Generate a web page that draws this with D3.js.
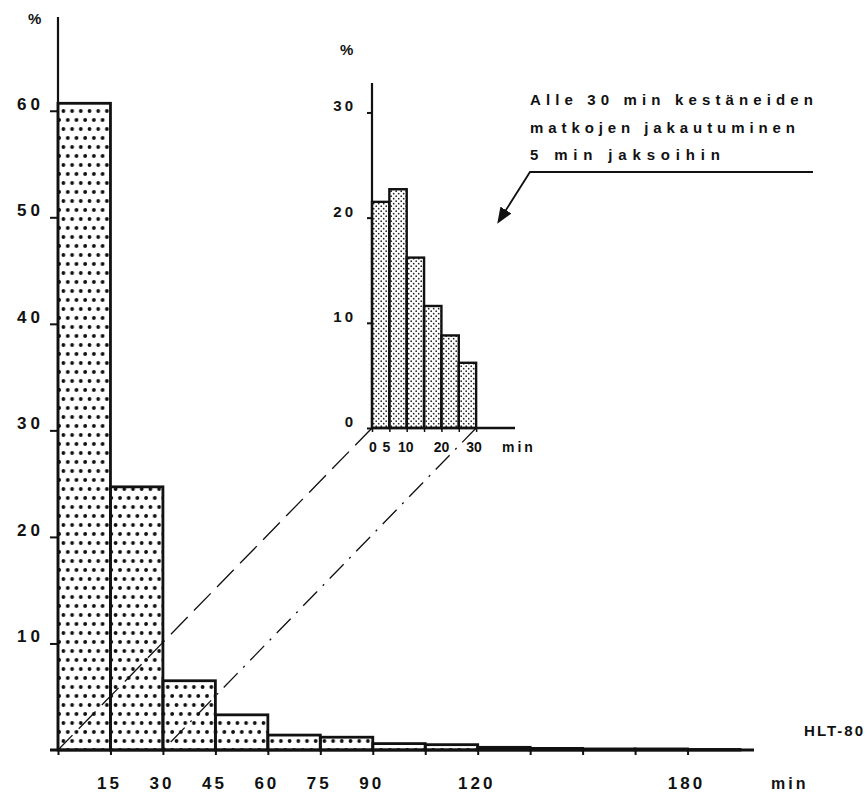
<!DOCTYPE html>
<html>
<head>
<meta charset="utf-8">
<script src="https://cdn.jsdelivr.net/npm/d3@7"></script>
<style>
  body { margin: 0; background: #fff; }
  svg text { font-family: "Liberation Sans", Arial, sans-serif; font-weight: bold; fill: #111; }
</style>
</head>
<body>
<svg id="chart" width="867" height="794"></svg>
<script>
// main histogram: share of trips (%) per 15 min class
const mainBinStart = [0, 15, 30, 45, 60, 75, 90, 105, 120, 135, 150, 165, 180];
const mainBinEnd   = [15, 30, 45, 60, 75, 90, 105, 120, 135, 150, 165, 180, 195];
const mainValues   = [60.7, 24.7, 6.5, 3.3, 1.4, 1.2, 0.6, 0.5, 0.25, 0.15, 0.1, 0.1, 0.05];
const mainYTicks   = [10, 20, 30, 40, 50, 60];
const mainXTicks   = [0, 15, 30, 45, 60, 75, 90, 105, 120, 135, 150, 165, 180];
const mainXLabels  = [15, 30, 45, 60, 75, 90, 120, 180];

// inset: trips under 30 min in 5 min classes
const insetBinStart = [0, 5, 10, 15, 20, 25];
const insetBinEnd   = [5, 10, 15, 20, 25, 30];
const insetValues   = [21.5, 22.7, 16.2, 11.6, 8.8, 6.2];
const insetYTicks   = [0, 10, 20, 30];
const insetXTicks   = [0, 5, 10, 15, 20, 25, 30];
const insetXLabels  = [0, 5, 10, 20, 30];

const noteLines = ["Alle 30 min kestäneiden", "matkojen  jakautuminen", "5 min  jaksoihin"];

const svg = d3.select('#chart');

// fill patterns
const defs = svg.append('defs');
const pBig = defs.append('pattern')
    .attr('id', 'dotsBig')
    .attr('patternUnits', 'userSpaceOnUse')
    .attr('width', 8.7).attr('height', 18);
pBig.append('circle').attr('cx', 2.5).attr('cy', 3).attr('r', 1.9).attr('fill', '#111');
pBig.append('circle').attr('cx', 6.85).attr('cy', 12).attr('r', 1.9).attr('fill', '#111');

const pSmall = defs.append('pattern')
    .attr('id', 'dotsSmall')
    .attr('patternUnits', 'userSpaceOnUse')
    .attr('width', 5).attr('height', 5);
pSmall.append('circle').attr('cx', 1.2).attr('cy', 1.2).attr('r', 0.85).attr('fill', '#222');
pSmall.append('circle').attr('cx', 3.7).attr('cy', 3.7).attr('r', 0.85).attr('fill', '#222');

// ---- main chart scales
const x = d3.scaleLinear().domain([0, 199]).range([58, 754]);
const y = d3.scaleLinear().domain([0, 68.8]).range([750, 17]);

// ---- inset scales
const xi = d3.scaleLinear().domain([0, 41.2]).range([372, 515]);
const yi = d3.scaleLinear().domain([0, 32.8]).range([428, 83]);

const mainData = mainValues.map((v, i) => ({x0: mainBinStart[i], x1: mainBinEnd[i], value: v}));
const insetData = insetValues.map((v, i) => ({x0: insetBinStart[i], x1: insetBinEnd[i], value: v}));

// main bars
svg.append('g')
    .selectAll('rect')
    .data(mainData)
    .enter()
    .append('rect')
    .attr('x', (d) => x(d.x0))
    .attr('y', (d) => y(d.value))
    .attr('width', (d) => x(d.x1) - x(d.x0))
    .attr('height', (d) => y(0) - y(d.value))
    .attr('fill', 'url(#dotsBig)')
    .attr('stroke', '#111')
    .attr('stroke-width', 2.8);

// connector lines from inset to main chart
svg.append('line')
    .attr('x1', xi(0)).attr('y1', yi(0))
    .attr('x2', x(0)).attr('y2', y(0))
    .attr('stroke', '#111').attr('stroke-width', 1.3)
    .attr('stroke-dasharray', '24,9');

svg.append('line')
    .attr('x1', xi(30)).attr('y1', yi(0))
    .attr('x2', x(30)).attr('y2', y(0))
    .attr('stroke', '#111').attr('stroke-width', 1.3)
    .attr('stroke-dasharray', '20,8,2,8');

// main axes
const yAxis = d3.axisLeft(y).tickValues(mainYTicks).tickSize(8).tickFormat(d3.format('d'));
const gy = svg.append('g').attr('transform', `translate(${x(0)},0)`).call(yAxis);
gy.select('.domain').remove();
gy.selectAll('.tick line').attr('stroke', '#111').attr('stroke-width', 2);
gy.selectAll('.tick text')
    .attr('x', -14).attr('dy', '-0.1em')
    .style('font-size', '17px').style('letter-spacing', '4px');

svg.append('line')
    .attr('x1', x(0)).attr('y1', y(68.8))
    .attr('x2', x(0)).attr('y2', y(0))
    .attr('stroke', '#111').attr('stroke-width', 2.2);

const xAxis = d3.axisBottom(x).tickValues(mainXTicks).tickSize(5).tickFormat('');
const gx = svg.append('g').attr('transform', `translate(0,${y(0)})`).call(xAxis);
gx.select('.domain').remove();
gx.selectAll('.tick line').attr('stroke', '#111').attr('stroke-width', 2);

svg.append('line')
    .attr('x1', x(0) - 8).attr('y1', y(0))
    .attr('x2', x(199)).attr('y2', y(0))
    .attr('stroke', '#111').attr('stroke-width', 2.8);

svg.append('g')
    .selectAll('text')
    .data(mainXLabels)
    .enter()
    .append('text')
    .attr('x', (d) => x(d) - 1)
    .attr('y', 789)
    .attr('text-anchor', 'middle')
    .style('font-size', '17px')
    .style('letter-spacing', '3px')
    .text((d) => d);

svg.append('text').attr('x', 28).attr('y', 24).style('font-size', '15px').text('%');
svg.append('text').attr('x', 771).attr('y', 789).style('font-size', '16px').style('letter-spacing', '3px').text('min');
svg.append('text').attr('x', 865).attr('y', 736).attr('text-anchor', 'end')
    .style('font-size', '15px').style('letter-spacing', '2px').text('HLT-80');

// ---- inset bars
svg.append('g')
    .selectAll('rect')
    .data(insetData)
    .enter()
    .append('rect')
    .attr('x', (d) => xi(d.x0))
    .attr('y', (d) => yi(d.value))
    .attr('width', (d) => xi(d.x1) - xi(d.x0))
    .attr('height', (d) => yi(0) - yi(d.value))
    .attr('fill', 'url(#dotsSmall)')
    .attr('stroke', '#111')
    .attr('stroke-width', 2.4);

const yAxisI = d3.axisLeft(yi).tickValues(insetYTicks).tickSize(5).tickFormat(d3.format('d'));
const gyi = svg.append('g').attr('transform', `translate(${xi(0)},0)`).call(yAxisI);
gyi.select('.domain').remove();
gyi.selectAll('.tick line').attr('stroke', '#111').attr('stroke-width', 2);
gyi.selectAll('.tick text')
    .attr('x', -16).attr('dy', '-0.1em')
    .style('font-size', '15px').style('letter-spacing', '3px');

svg.append('line')
    .attr('x1', xi(0)).attr('y1', yi(32.8))
    .attr('x2', xi(0)).attr('y2', yi(0))
    .attr('stroke', '#111').attr('stroke-width', 2.2);

const xAxisI = d3.axisBottom(xi).tickValues(insetXTicks).tickSize(4).tickFormat('');
const gxi = svg.append('g').attr('transform', `translate(0,${yi(0)})`).call(xAxisI);
gxi.select('.domain').remove();
gxi.selectAll('.tick line').attr('stroke', '#111').attr('stroke-width', 1.5);

svg.append('line')
    .attr('x1', xi(0)).attr('y1', yi(0))
    .attr('x2', xi(41.2)).attr('y2', yi(0))
    .attr('stroke', '#111').attr('stroke-width', 2.4);

const insetLabelShift = {0: 1, 5: -3, 10: -1, 20: 0, 30: -2};
svg.append('g')
    .selectAll('text')
    .data(insetXLabels)
    .enter()
    .append('text')
    .attr('x', (d) => xi(d) + insetLabelShift[d])
    .attr('y', 452)
    .attr('text-anchor', 'middle')
    .style('font-size', '14px')
    .text((d) => d);

svg.append('text').attr('x', 502).attr('y', 452).style('font-size', '14px').style('letter-spacing', '3px').text('min');
svg.append('text').attr('x', 340).attr('y', 55).style('font-size', '15px').text('%');

// ---- annotation
const note = svg.append('g');
const noteWidths = [283, 265, 190];
note.selectAll('text')
    .data(noteLines)
    .enter()
    .append('text')
    .attr('x', 530)
    .attr('y', (d, i) => 105 + i * 27.5)
    .attr('textLength', (d, i) => noteWidths[i])
    .attr('lengthAdjust', 'spacing')
    .style('font-size', '15px')
    .text((d) => d);

defs.append('marker')
    .attr('id', 'arrow')
    .attr('viewBox', '0 0 10 10')
    .attr('refX', 8).attr('refY', 5)
    .attr('markerWidth', 9).attr('markerHeight', 9)
    .attr('orient', 'auto')
    .append('path')
    .attr('d', 'M0,1 L10,5 L0,9 Z')
    .attr('fill', '#111');

note.append('path')
    .attr('d', 'M813,172 L530,172 L499,221')
    .attr('fill', 'none')
    .attr('stroke', '#111')
    .attr('stroke-width', 1.8)
    .attr('marker-end', 'url(#arrow)');
</script>
</body>
</html>
